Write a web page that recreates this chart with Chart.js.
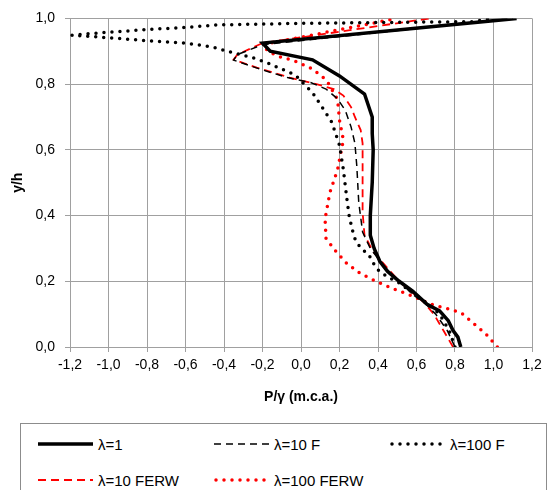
<!DOCTYPE html>
<html>
<head>
<meta charset="utf-8">
<script src="https://cdn.jsdelivr.net/npm/chart.js@4.4.1/dist/chart.umd.min.js"></script>
<style>
  html, body { margin: 0; padding: 0; background: #fff; }
  body { width: 550px; height: 490px; position: relative; overflow: hidden;
         font-family: "Liberation Sans", Arial, sans-serif; }
  #wrap { position: absolute; left: 0; top: 0; width: 550px; height: 420px; }
  #legend { position: absolute; left: 20px; top: 423px; width: 527px; height: 80px;
            border: 1px solid #8c8c8c; box-sizing: border-box; }
  .leg-item { position: absolute; display: flex; align-items: center; font-size: 15px; color: #000;
              white-space: nowrap; }
  .leg-item svg { margin-right: 3px; }
</style>
</head>
<body>
<div id="wrap"><canvas id="chart" width="550" height="420"></canvas></div>
<div id="legend"></div>
<script>
'use strict';

/* series names */
const names = ['λ=1', 'λ=10 F', 'λ=100 F', 'λ=10 FERW', 'λ=100 FERW'];

/* λ=1 — P/γ and y/h, bottom to top */
const p1 = [0.83, 0.815, 0.79, 0.765, 0.72, 0.655, 0.58, 0.51, 0.45, 0.41, 0.38, 0.36, 0.36, 0.37, 0.375, 0.37, 0.37, 0.33, 0.20, 0.06, -0.16, -0.20, 1.12];
const h1 = [0.00, 0.03, 0.05, 0.08, 0.11, 0.13, 0.17, 0.20, 0.23, 0.26, 0.30, 0.34, 0.40, 0.50, 0.60, 0.65, 0.70, 0.77, 0.825, 0.874, 0.90, 0.925, 1.00];

/* λ=10 F */
const p10 = [0.80, 0.76, 0.70, 0.65, 0.58, 0.51, 0.45, 0.40, 0.36, 0.32, 0.30, 0.29, 0.28, 0.26, 0.23, 0.19, 0.13, 0.05, -0.07, -0.21, -0.35, -0.33, -0.20, 1.10];
const h10 = [0.00, 0.05, 0.10, 0.13, 0.16, 0.20, 0.23, 0.27, 0.30, 0.35, 0.44, 0.55, 0.62, 0.67, 0.72, 0.755, 0.785, 0.805, 0.82, 0.845, 0.873, 0.89, 0.92, 1.00];

/* λ=100 F */
const p100 = [0.80, 0.77, 0.72, 0.65, 0.58, 0.51, 0.46, 0.42, 0.39, 0.35, 0.31, 0.28, 0.265, 0.25, 0.24, 0.22, 0.20, 0.16, 0.115, 0.06, -0.03, -0.18, -0.25, -0.35, -0.46, -0.60, -0.78, -0.97, -1.19, -1.00, -0.77, -0.59, -0.44, 0.00, 0.50, 0.89, 1.00];
const h100 = [0.00, 0.05, 0.10, 0.135, 0.165, 0.195, 0.21, 0.225, 0.24, 0.283, 0.30, 0.33, 0.36, 0.40, 0.443, 0.54, 0.614, 0.684, 0.725, 0.774, 0.828, 0.866, 0.88, 0.895, 0.913, 0.925, 0.931, 0.94, 0.949, 0.958, 0.967, 0.973, 0.98, 0.985, 0.988, 0.99, 1.00];

/* λ=10 FERW */
const p10e = [0.79, 0.74, 0.69, 0.64, 0.58, 0.51, 0.45, 0.375, 0.33, 0.32, 0.32, 0.32, 0.31, 0.28, 0.26, 0.22, 0.17, 0.08, -0.06, -0.23, -0.35, -0.33, -0.20, 0.67];
const h10e = [0.00, 0.05, 0.10, 0.135, 0.165, 0.20, 0.24, 0.29, 0.34, 0.41, 0.54, 0.62, 0.66, 0.70, 0.73, 0.765, 0.785, 0.80, 0.82, 0.85, 0.875, 0.89, 0.925, 1.00];

/* λ=100 FERW */
const p100e = [1.02, 0.96, 0.89, 0.83, 0.74, 0.69, 0.57, 0.48, 0.39, 0.31, 0.24, 0.18, 0.13, 0.125, 0.15, 0.19, 0.22, 0.20, 0.19, 0.135, 0.10, 0.047, -0.03, -0.125, -0.17, -0.20, 0.50];
const h100e = [0.00, 0.04, 0.075, 0.105, 0.12, 0.127, 0.157, 0.177, 0.20, 0.223, 0.253, 0.292, 0.33, 0.39, 0.47, 0.54, 0.63, 0.69, 0.753, 0.81, 0.828, 0.85, 0.87, 0.886, 0.90, 0.92, 1.00];

const C_GRID = '#a0a0a0';
const FONT = '"Liberation Sans", Arial, sans-serif';

const pts = (xs, ys) => xs.map((x, i) => ({ x, y: ys[i] }));
const comma = v => Number(v).toFixed(1).replace('.', ',');

const styles = [
  { color: '#000000', width: 3.5, dash: [],     cap: 'butt'  },
  { color: '#000000', width: 1.5, dash: [7, 5], cap: 'butt'  },
  { color: '#000000', width: 3.5, dash: [0, 8], cap: 'round' },
  { color: '#ff0000', width: 1.8, dash: [8, 5], cap: 'butt'  },
  { color: '#ff0000', width: 3.5, dash: [0, 8], cap: 'round' },
];

const series = [pts(p1, h1), pts(p10, h10), pts(p100, h100), pts(p10e, h10e), pts(p100e, h100e)];

new Chart(document.getElementById('chart').getContext('2d'), {
  type: 'scatter',
  data: {
    datasets: series.map((data, i) => ({
      label: names[i],
      data,
      showLine: true,
      pointRadius: 0,
      borderColor: styles[i].color,
      borderWidth: styles[i].width,
      borderDash: styles[i].dash,
      borderCapStyle: styles[i].cap,
      tension: 0,
    })),
  },
  options: {
    responsive: false,
    animation: false,
    layout: { padding: { left: 0, right: 18, top: 15, bottom: 0 } },
    plugins: { legend: { display: false }, tooltip: { enabled: false } },
    scales: {
      x: {
        type: 'linear', min: -1.2, max: 1.2,
        afterFit: s => { s.height = 73; },
        grid: { color: C_GRID, tickColor: C_GRID, tickLength: 5, lineWidth: 1 },
        border: { color: C_GRID, width: 1 },
        ticks: { stepSize: 0.2, color: '#000', padding: 5, font: { family: FONT, size: 14 }, callback: comma },
        title: { display: true, text: 'P/γ (m.c.a.)', color: '#000', font: { family: FONT, size: 14, weight: 'bold' },
                 padding: { top: 4, bottom: 14 } },
      },
      y: {
        type: 'linear', min: 0, max: 1,
        afterFit: s => { s.width = 70; },
        grid: { color: C_GRID, tickColor: C_GRID, tickLength: 5, lineWidth: 1 },
        border: { color: C_GRID, width: 1 },
        ticks: { stepSize: 0.2, color: '#000', padding: 10, font: { family: FONT, size: 14 }, callback: comma },
        title: { display: true, text: 'y/h', color: '#000', font: { family: FONT, size: 14, weight: 'bold' },
                 padding: { top: 10, bottom: 0 } },
      },
    },
  },
});

/* legend — three columns, two rows */
const legPos = [[17, 20], [193, 20], [369, 20], [17, 56], [193, 56]];
document.getElementById('legend').innerHTML = names.map((n, i) => {
  const s = styles[i];
  const dash = s.dash.length ? `stroke-dasharray="${s.dash.join(' ')}"` : '';
  return `<span class="leg-item" style="left:${legPos[i][0]}px;top:${legPos[i][1] - 10}px;height:20px">
    <svg width="57" height="10"><line x1="${s.cap === 'round' ? 2 : 0}" y1="5" x2="55" y2="5" stroke="${s.color}"
      stroke-width="${s.width}" stroke-linecap="${s.cap}" ${dash}/></svg>${n}</span>`;
}).join('');
</script>
</body>
</html>
